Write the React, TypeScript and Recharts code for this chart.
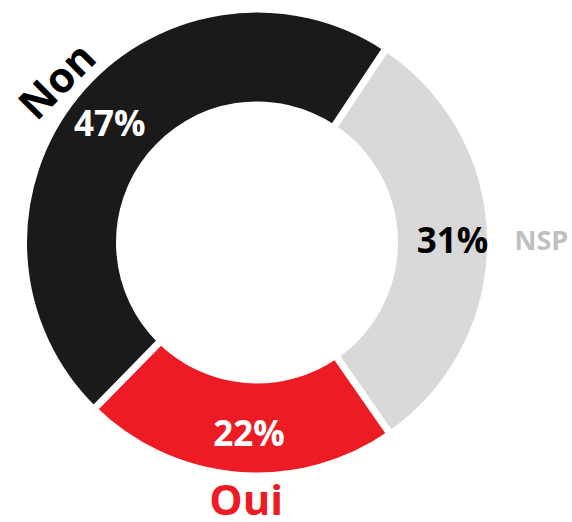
import React from 'react';
import { PieChart, Pie, Cell } from 'recharts';

const names = ['NSP', 'Oui', 'Non'];
const values = [31, 22, 47];
const sliceColors = ['#d9d9d9', '#ed1c24', '#1a1a1a'];
const percentColors = ['#000000', '#ffffff', '#ffffff'];
const nameColors = ['#c0c0c0', '#ed1c24', '#000000'];

const data = names.map((n, i) => ({ name: n, value: values[i] }));

const FONT = '"Open Sans", "DejaVu Sans", sans-serif';
const RAD = Math.PI / 180;
const angleNudge: Record<string, number> = { NSP: 0, Oui: 2.4, Non: 0 };
const radiusNudge: Record<string, number> = { NSP: 4, Oui: 0, Non: -2 };

const renderLabel = (props: any) => {
  const { cx, cy, midAngle, innerRadius, outerRadius, index, value, name } = props;
  const a = (midAngle + angleNudge[name]) * RAD;
  const rp = (innerRadius + outerRadius) / 2 + 6 + radiusNudge[name];
  const px = cx + rp * Math.cos(-a);
  const py = cy + rp * Math.sin(-a);
  const rn = outerRadius + 24;
  const nx = cx + rn * Math.cos(-a);
  const ny = cy + rn * Math.sin(-a);
  const isNSP = name === 'NSP';
  const isNon = name === 'Non';
  return (
    <g>
      <text
        x={px}
        y={py}
        dy="0.36em"
        textAnchor="middle"
        fill={percentColors[index]}
        fontFamily={FONT}
        fontWeight={700}
        fontSize={35}
      >
        {value}%
      </text>
      <text
        x={nx}
        y={ny}
        dy="0.36em"
        textAnchor={isNSP ? 'start' : 'middle'}
        fill={nameColors[index]}
        fontFamily={FONT}
        fontWeight={700}
        fontSize={isNSP ? 27 : 42}
        transform={isNon ? `rotate(-45 ${nx} ${ny})` : undefined}
      >
        {name}
      </text>
    </g>
  );
};

export default function App() {
  return (
    <div style={{ position: 'absolute', left: 0, top: 0, width: 572, height: 522, background: '#fff' }}>
      <PieChart width={572} height={522} margin={{ top: 0, right: 0, bottom: 0, left: 0 }}>
        <Pie
          data={data}
          dataKey="value"
          nameKey="name"
          cx={257}
          cy={242.5}
          innerRadius={137.5}
          outerRadius={233.5}
          startAngle={56.4}
          endAngle={-303.6}
          stroke="#ffffff"
          strokeWidth={7}
          label={renderLabel}
          labelLine={false}
          isAnimationActive={false}
        >
          {data.map((d, i) => (
            <Cell key={d.name} fill={sliceColors[i]} />
          ))}
        </Pie>
      </PieChart>
    </div>
  );
}
